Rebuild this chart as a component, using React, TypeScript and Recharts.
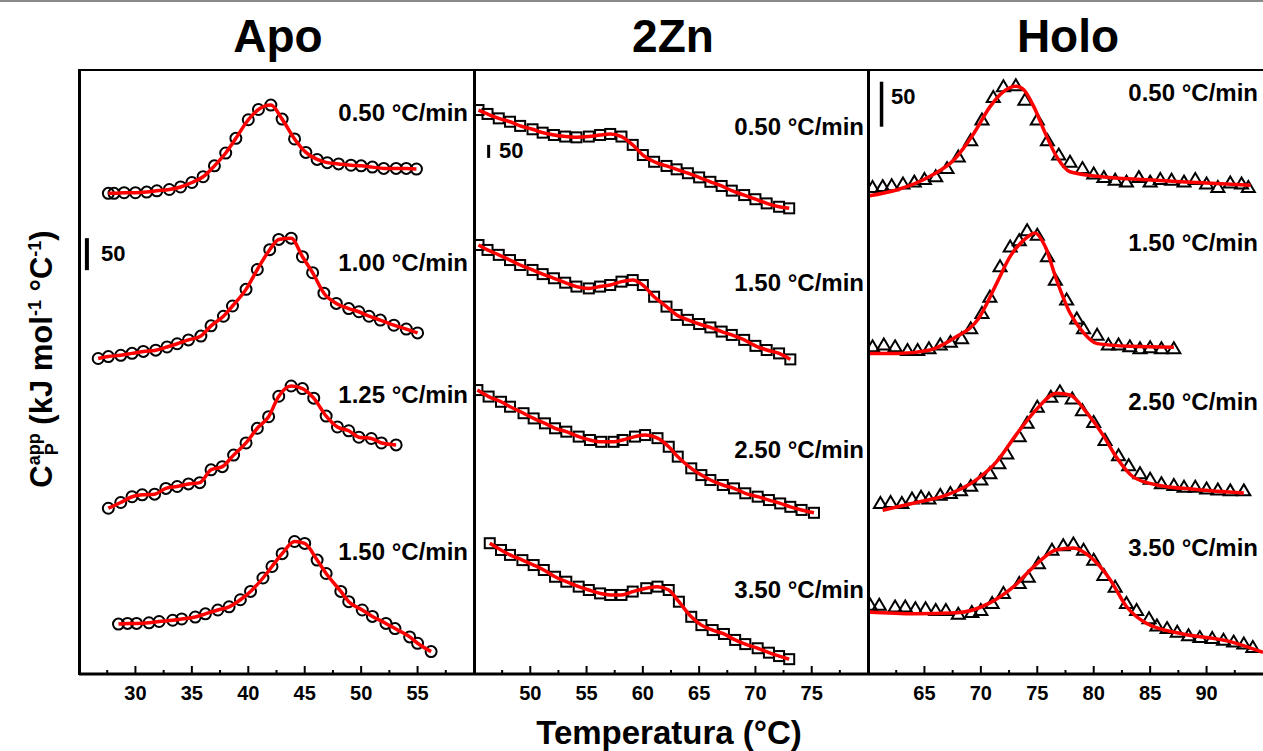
import { ComposedChart, Scatter, Line, XAxis, YAxis, ReferenceLine } from "recharts";

// ---------- Apo (circles) ----------
const apo050T = [27.6, 28.1, 29.0, 30.0, 31.0, 31.9, 33.0, 34.0, 35.0, 36.0, 37.0, 38.0, 38.9, 40.0, 40.9, 42.0, 43.0, 44.1, 45.1, 46.1, 47.0, 48.0, 49.1, 50.0, 51.0, 52.0, 53.1, 54.0, 54.9];
const apo050Cp = [1, 1, 2, 2, 3, 5, 7, 11, 18, 27, 44, 64, 87, 116, 132, 139, 117, 86, 65, 54, 49, 47, 45, 44, 42, 40, 40, 40, 39];
const apo100T = [26.7, 27.6, 28.7, 29.7, 30.7, 31.8, 32.8, 33.7, 34.7, 35.8, 36.7, 37.8, 38.6, 39.8, 40.8, 41.9, 42.7, 43.8, 44.8, 45.7, 46.7, 47.8, 48.9, 49.8, 50.7, 51.7, 52.9, 54.0, 55.0];
const apo100Cp = [3, 6, 8, 11, 14, 16, 21, 26, 32, 38, 54, 69, 85, 111, 142, 173, 189, 191, 162, 137, 105, 89, 81, 76, 69, 63, 55, 49, 43];
const apo125T = [27.6, 28.7, 29.7, 30.6, 31.7, 32.7, 33.7, 34.7, 35.7, 36.7, 37.7, 38.7, 39.8, 40.8, 41.8, 42.7, 43.8, 44.8, 45.8, 46.9, 47.9, 48.9, 49.8, 50.9, 51.8, 53.1];
const apo125Cp = [4, 13, 22, 25, 26, 35, 38, 42, 44, 64, 69, 87, 106, 129, 147, 179, 195, 191, 176, 148, 131, 125, 115, 113, 106, 103];
const apo150T = [28.5, 29.3, 30.1, 31.2, 32.1, 33.3, 34.1, 35.3, 36.2, 37.3, 38.3, 39.3, 40.2, 41.3, 42.1, 43.0, 44.1, 45.0, 46.1, 46.9, 48.2, 48.9, 50.1, 51.0, 52.2, 53.0, 54.3, 55.0, 56.2];
const apo150Cp = [3, 4, 4, 5, 7, 9, 11, 14, 19, 25, 30, 41, 54, 75, 93, 113, 132, 129, 103, 82, 54, 38, 25, 15, 4, -4, -17, -27, -40];
const apoOffsets = [750, 490, 255, 75];

// ---------- 2Zn (squares) ----------
const zn050T = [45.4, 46.2, 47.2, 48.2, 49.1, 50.2, 51.1, 52.1, 53.1, 54.1, 55.2, 56.2, 57.1, 58.1, 59.1, 60.0, 61.0, 62.1, 63.0, 64.0, 65.0, 66.0, 67.0, 67.9, 69.0, 70.0, 71.0, 72.1, 73.0];
const zn050Cp = [369, 354, 337, 324, 308, 295, 282, 273, 267, 264, 267, 273, 277, 267, 235, 196, 170, 154, 141, 126, 110, 93, 77, 59, 42, 26, 10, -3, -9];
const zn150T = [45.4, 46.2, 47.2, 48.2, 49.1, 50.2, 51.1, 52.1, 53.1, 54.1, 55.2, 56.2, 57.1, 58.1, 59.1, 60.0, 61.0, 62.1, 63.0, 64.0, 65.0, 66.0, 67.0, 67.9, 69.0, 70.0, 71.0, 72.1, 73.1];
const zn150Cp = [400, 381, 362, 342, 323, 304, 288, 272, 255, 240, 233, 240, 246, 259, 265, 246, 201, 163, 131, 112, 96, 83, 67, 54, 35, 12, -4, -17, -40];
const zn250T = [45.3, 46.3, 47.4, 48.2, 49.4, 50.3, 51.3, 52.2, 53.2, 54.3, 55.3, 56.3, 57.4, 58.2, 59.3, 60.2, 61.3, 62.3, 63.1, 64.3, 65.2, 66.0, 67.1, 68.1, 69.1, 70.2, 71.2, 72.2, 73.1, 74.1, 75.2];
const zn250Cp = [392, 367, 347, 328, 303, 283, 264, 245, 232, 213, 200, 193, 193, 200, 213, 219, 207, 174, 136, 91, 65, 46, 27, 14, -5, -18, -31, -44, -57, -69, -80];
const zn350T = [46.4, 47.4, 48.2, 49.3, 50.3, 51.2, 52.2, 53.2, 54.3, 55.2, 56.2, 57.1, 58.1, 59.1, 60.3, 61.3, 62.3, 63.2, 64.3, 65.2, 66.2, 67.2, 68.2, 69.1, 70.2, 71.2, 72.1, 73.0];
const zn350Cp = [353, 327, 308, 288, 269, 250, 224, 205, 186, 173, 160, 154, 154, 167, 180, 186, 173, 128, 70, 38, 19, 4, -19, -35, -51, -68, -81, -93];
const znOffsets = [1800, 1250, 700, 150];

// ---------- Holo (triangles) ----------
const holo050T = [60.4, 61.3, 62.1, 63.1, 64.1, 65.0, 66.0, 67.0, 68.0, 69.1, 70.1, 71.1, 72.0, 73.1, 73.9, 75.0, 75.9, 76.9, 77.9, 79.0, 80.0, 80.9, 81.9, 82.9, 84.0, 85.0, 85.9, 86.9, 88.0, 89.0, 90.0, 91.0, 92.1, 93.1, 93.7];
const holo050Cp = [1, 2, 3, 5, 7, 10, 13, 22, 35, 53, 76, 101, 113, 114, 98, 76, 53, 37, 29, 22, 16, 12, 9, 7, 12, 7, 10, 9, 7, 10, 5, 1, 6, 5, 1];
const holo050FitT = [60.0, 62.6, 65.5, 67.6, 69.4, 70.8, 72.0, 73.1, 73.8, 74.7, 75.7, 76.7, 77.9, 80.3, 84.7, 89.1, 93.9];
const holo050FitCp = [-9, -2, 13, 31, 61, 90, 107, 113, 109, 90, 61, 35, 18, 13, 9, 6, 3];
const holo150T = [60.4, 61.4, 62.4, 63.5, 64.4, 65.4, 66.4, 67.3, 68.3, 69.1, 70.1, 70.8, 71.7, 72.6, 73.4, 74.1, 75.0, 75.9, 76.6, 77.6, 78.5, 79.1, 80.3, 81.3, 82.2, 83.2, 84.1, 85.0, 86.0, 87.1];
const holo150Cp = [4, 6, 4, 0, 0, 2, 6, 9, 13, 24, 41, 59, 93, 115, 122, 133, 128, 104, 78, 56, 35, 24, 17, 6, 6, 4, 2, 3, 2, 2];
const holo150FitT = [60.0, 62.6, 65.5, 67.6, 69.8, 71.4, 72.6, 73.8, 74.8, 75.7, 76.7, 77.9, 79.1, 80.3, 83.2, 87.1];
const holo150FitCp = [-4, -4, 0, 13, 35, 74, 104, 122, 130, 115, 78, 41, 19, 7, 4, 3];
const holo250T = [61.1, 62.0, 63.0, 63.9, 64.7, 65.4, 66.4, 67.3, 68.2, 69.1, 70.0, 70.8, 71.6, 72.3, 73.4, 74.1, 75.0, 76.2, 77.0, 78.1, 79.0, 80.0, 81.0, 82.2, 83.1, 84.1, 85.0, 86.0, 87.1, 88.0, 89.0, 90.0, 91.0, 92.1, 93.3];
const holo250Cp = [0, 1, 0, 5, 7, 5, 9, 11, 14, 19, 26, 33, 44, 55, 74, 89, 107, 118, 124, 116, 103, 90, 70, 53, 42, 33, 27, 22, 20, 18, 18, 16, 15, 14, 14];
const holo250FitT = [61.3, 64.1, 67.0, 69.4, 71.4, 73.2, 75.0, 76.7, 77.9, 79.4, 80.9, 82.0, 83.5, 85.6, 89.1, 93.3];
const holo250FitCp = [-8, 0, 9, 24, 46, 77, 105, 122, 120, 100, 74, 51, 29, 20, 15, 11];
const holo350T = [60.2, 61.0, 62.4, 63.3, 64.2, 65.1, 66.0, 66.9, 68.0, 69.2, 70.0, 71.0, 72.0, 73.4, 74.2, 75.1, 76.3, 77.3, 78.2, 79.1, 80.0, 80.9, 81.9, 82.9, 83.8, 84.9, 85.6, 86.5, 87.4, 88.4, 89.4, 90.5, 91.5, 92.4, 93.3, 94.1];
const holo350Cp = [7, 7, 5, 5, 3, 3, 1, 1, -3, -1, 1, 9, 20, 31, 38, 53, 68, 73, 75, 68, 57, 40, 27, 9, 1, -8, -16, -19, -23, -27, -29, -30, -32, -34, -36, -40];
const holo350FitT = [60.0, 64.1, 67.9, 70.8, 72.9, 75.0, 76.7, 78.2, 79.7, 81.5, 82.9, 84.7, 87.7, 92.1, 95.0];
const holo350FitCp = [-1, -3, -2, 9, 27, 53, 68, 70, 60, 34, 5, -14, -25, -34, -46];
const holoOffsets = [540, 360, 190, 70];

// axis ticks (every 2.5 °C, labels on multiples of 5)
const apoTicks = [27.5, 30, 32.5, 35, 37.5, 40, 42.5, 45, 47.5, 50, 52.5, 55, 57.5];
const znTicks = [47.5, 50, 52.5, 55, 57.5, 60, 62.5, 65, 67.5, 70, 72.5, 75, 77.5];
const holoTicks = [62.5, 65, 67.5, 70, 72.5, 75, 77.5, 80, 82.5, 85, 87.5, 90, 92.5];

const apoRates = ["0.50", "1.00", "1.25", "1.50"];
const znRates = ["0.50", "1.50", "2.50", "3.50"];
const holoRates = ["0.50", "1.50", "2.50", "3.50"];

const FONT = "'Liberation Sans', Arial, Helvetica, sans-serif";
const RED = "#ff0000";
const PLOT_TOP = 70;
const PLOT_H = 604;
const AXIS_H = 44;

type Trace = { t: number[]; cp: number[]; fitT?: number[]; fitCp?: number[] };
type Marker = "circle" | "square" | "triangle";

type PanelCfg = {
  title: string;
  titleX: number;
  left: number;
  width: number;
  xDomain: [number, number];
  ticks: number[];
  yMax: number;
  marker: Marker;
  traces: Trace[];
  offsets: number[];
  rates: string[];
  rateY: number[];
  rateRight: number;
  bar: { t: number; y0: number; w: number };
  barLabel: { x: number; y: number };
};

const toPoints = (t: number[], cp: number[], offset: number) =>
  t.map((x, i) => ({ t: x, cp: cp[i] + offset }));

const markerShape = (kind: Marker) => (props: any) => {
  const { cx, cy } = props;
  if (kind === "circle")
    return <circle cx={cx} cy={cy} r={5.5} fill="none" stroke="#000" strokeWidth={2} />;
  if (kind === "square")
    return <rect x={cx - 5} y={cy - 5} width={10} height={10} fill="none" stroke="#000" strokeWidth={2} />;
  return (
    <path
      d={`M${cx},${cy - 6} L${cx + 6.5},${cy + 5} L${cx - 6.5},${cy + 5} Z`}
      fill="none"
      stroke="#000"
      strokeWidth={2}
      strokeLinejoin="miter"
    />
  );
};

const renderTick = (props: any) => {
  const { x, y, payload } = props;
  const major = payload.value % 5 === 0;
  return (
    <g>
      <line x1={x} x2={x} y1={y} y2={y - (major ? 8 : 4)} stroke="#000" strokeWidth={2} />
      {major && (
        <text x={x} y={y + 26} textAnchor="middle" fontSize={20} fontWeight="bold" fontFamily={FONT} fill="#000">
          {payload.value}
        </text>
      )}
    </g>
  );
};

const panels: PanelCfg[] = [
  {
    title: "Apo",
    titleX: 278,
    left: 79,
    width: 395,
    xDomain: [25, 60],
    ticks: apoTicks,
    yMax: 943.75,
    marker: "circle",
    traces: [
      { t: apo050T, cp: apo050Cp },
      { t: apo100T, cp: apo100Cp },
      { t: apo125T, cp: apo125Cp },
      { t: apo150T, cp: apo150Cp },
    ],
    offsets: apoOffsets,
    rates: apoRates,
    rateY: [113, 263, 395, 552],
    rateRight: 468,
    bar: { t: 25.7, y0: 631, w: 4 },
    barLabel: { x: 101, y: 254 },
  },
  {
    title: "2Zn",
    titleX: 673,
    left: 474,
    width: 394,
    xDomain: [45, 80],
    ticks: znTicks,
    yMax: 2323,
    marker: "square",
    traces: [
      { t: zn050T, cp: zn050Cp },
      { t: zn150T, cp: zn150Cp },
      { t: zn250T, cp: zn250Cp },
      { t: zn350T, cp: zn350Cp },
    ],
    offsets: znOffsets,
    rates: znRates,
    rateY: [127, 283, 450, 590],
    rateRight: 864,
    bar: { t: 46.3, y0: 1985, w: 3 },
    barLabel: { x: 499, y: 151 },
  },
  {
    title: "Holo",
    titleX: 1068,
    left: 868,
    width: 395,
    xDomain: [60, 95],
    ticks: holoTicks,
    yMax: 671,
    marker: "triangle",
    traces: [
      { t: holo050T, cp: holo050Cp, fitT: holo050FitT, fitCp: holo050FitCp },
      { t: holo150T, cp: holo150Cp, fitT: holo150FitT, fitCp: holo150FitCp },
      { t: holo250T, cp: holo250Cp, fitT: holo250FitT, fitCp: holo250FitCp },
      { t: holo350T, cp: holo350Cp, fitT: holo350FitT, fitCp: holo350FitCp },
    ],
    offsets: holoOffsets,
    rates: holoRates,
    rateY: [93, 243, 402, 548],
    rateRight: 1258,
    bar: { t: 61.2, y0: 608, w: 3.5 },
    barLabel: { x: 891, y: 97 },
  },
];

function Panel({ cfg }: { cfg: PanelCfg }) {
  return (
    <>
      <div style={{ position: "absolute", left: cfg.left, top: PLOT_TOP }}>
        <ComposedChart width={cfg.width} height={PLOT_H + AXIS_H} margin={{ top: 0, right: 0, bottom: 0, left: 0 }}>
          <XAxis
            type="number"
            dataKey="t"
            domain={cfg.xDomain}
            ticks={cfg.ticks}
            interval={0}
            allowDataOverflow
            tickSize={0}
            tickMargin={0}
            tickLine={false}
            tick={renderTick}
            axisLine={{ stroke: "#000", strokeWidth: 3 }}
            height={AXIS_H}
          />
          <YAxis type="number" dataKey="cp" domain={[0, cfg.yMax]} hide allowDataOverflow />
          {cfg.traces.map((tr, i) => (
            <Scatter
              key={`pts-${i}`}
              data={toPoints(tr.t, tr.cp, cfg.offsets[i])}
              shape={markerShape(cfg.marker)}
              isAnimationActive={false}
            />
          ))}
          {cfg.traces.map((tr, i) => (
            <Line
              key={`fit-${i}`}
              data={toPoints(tr.fitT ?? tr.t, tr.fitCp ?? tr.cp, cfg.offsets[i])}
              dataKey="cp"
              type="monotone"
              stroke={RED}
              strokeWidth={3.5}
              dot={false}
              activeDot={false}
              isAnimationActive={false}
              zIndex={700}
            />
          ))}
          <ReferenceLine
            segment={[
              { x: cfg.bar.t, y: cfg.bar.y0 },
              { x: cfg.bar.t, y: cfg.bar.y0 + 50 },
            ]}
            stroke="#000"
            strokeWidth={cfg.bar.w}
          />
        </ComposedChart>
      </div>
      <div
        style={{
          position: "absolute",
          left: cfg.titleX,
          top: 13,
          transform: "translateX(-50%)",
          fontSize: 46,
          lineHeight: 1,
          fontWeight: "bold",
          whiteSpace: "nowrap",
        }}
      >
        {cfg.title}
      </div>
      {cfg.rates.map((r, i) => (
        <div
          key={`rate-${i}`}
          style={{
            position: "absolute",
            left: cfg.rateRight,
            top: cfg.rateY[i],
            transform: "translate(-100%, -50%)",
            fontSize: 24,
            lineHeight: 1,
            fontWeight: "bold",
            whiteSpace: "nowrap",
          }}
        >
          {r} °C/min
        </div>
      ))}
      <div
        style={{
          position: "absolute",
          left: cfg.barLabel.x,
          top: cfg.barLabel.y,
          transform: "translateY(-50%)",
          fontSize: 22,
          lineHeight: 1,
          fontWeight: "bold",
        }}
      >
        50
      </div>
      <div style={{ position: "absolute", left: cfg.left - 1.5, top: PLOT_TOP - 1, width: 3, height: PLOT_H + 2, background: "#000" }} />
    </>
  );
}

export default function App() {
  return (
    <div
      style={{
        position: "absolute",
        left: 0,
        top: 0,
        width: 1263,
        height: 751,
        background: "#fff",
        overflow: "hidden",
        fontFamily: FONT,
        color: "#000",
      }}
    >
      <div style={{ position: "absolute", left: 0, top: 0, width: 1263, height: 2, background: "#8a8a8a" }} />
      <div style={{ position: "absolute", left: 78, top: PLOT_TOP - 1.5, width: 1190, height: 2.5, background: "#000" }} />
      {panels.map((p) => (
        <Panel key={p.title} cfg={p} />
      ))}
      <div
        style={{
          position: "absolute",
          left: 43,
          top: 359,
          transform: "translate(-50%, -50%) rotate(-90deg)",
          fontSize: 31,
          lineHeight: 1,
          fontWeight: "bold",
          whiteSpace: "nowrap",
        }}
      >
        C
        <span
          style={{
            display: "inline-block",
            fontSize: 18,
            lineHeight: 1,
            verticalAlign: "-0.35em",
            textAlign: "center",
          }}
        >
          <span style={{ display: "block" }}>app</span>
          <span style={{ display: "block" }}>P</span>
        </span>{" "}
        (kJ mol<sup style={{ fontSize: 18, verticalAlign: "0.6em" }}>-1</sup> °C<sup style={{ fontSize: 18, verticalAlign: "0.6em" }}>-1</sup>)
      </div>
      <div
        style={{
          position: "absolute",
          left: 669,
          top: 732,
          transform: "translate(-50%, -50%)",
          fontSize: 33,
          lineHeight: 1,
          fontWeight: "bold",
          whiteSpace: "nowrap",
        }}
      >
        Temperatura (°C)
      </div>
    </div>
  );
}
